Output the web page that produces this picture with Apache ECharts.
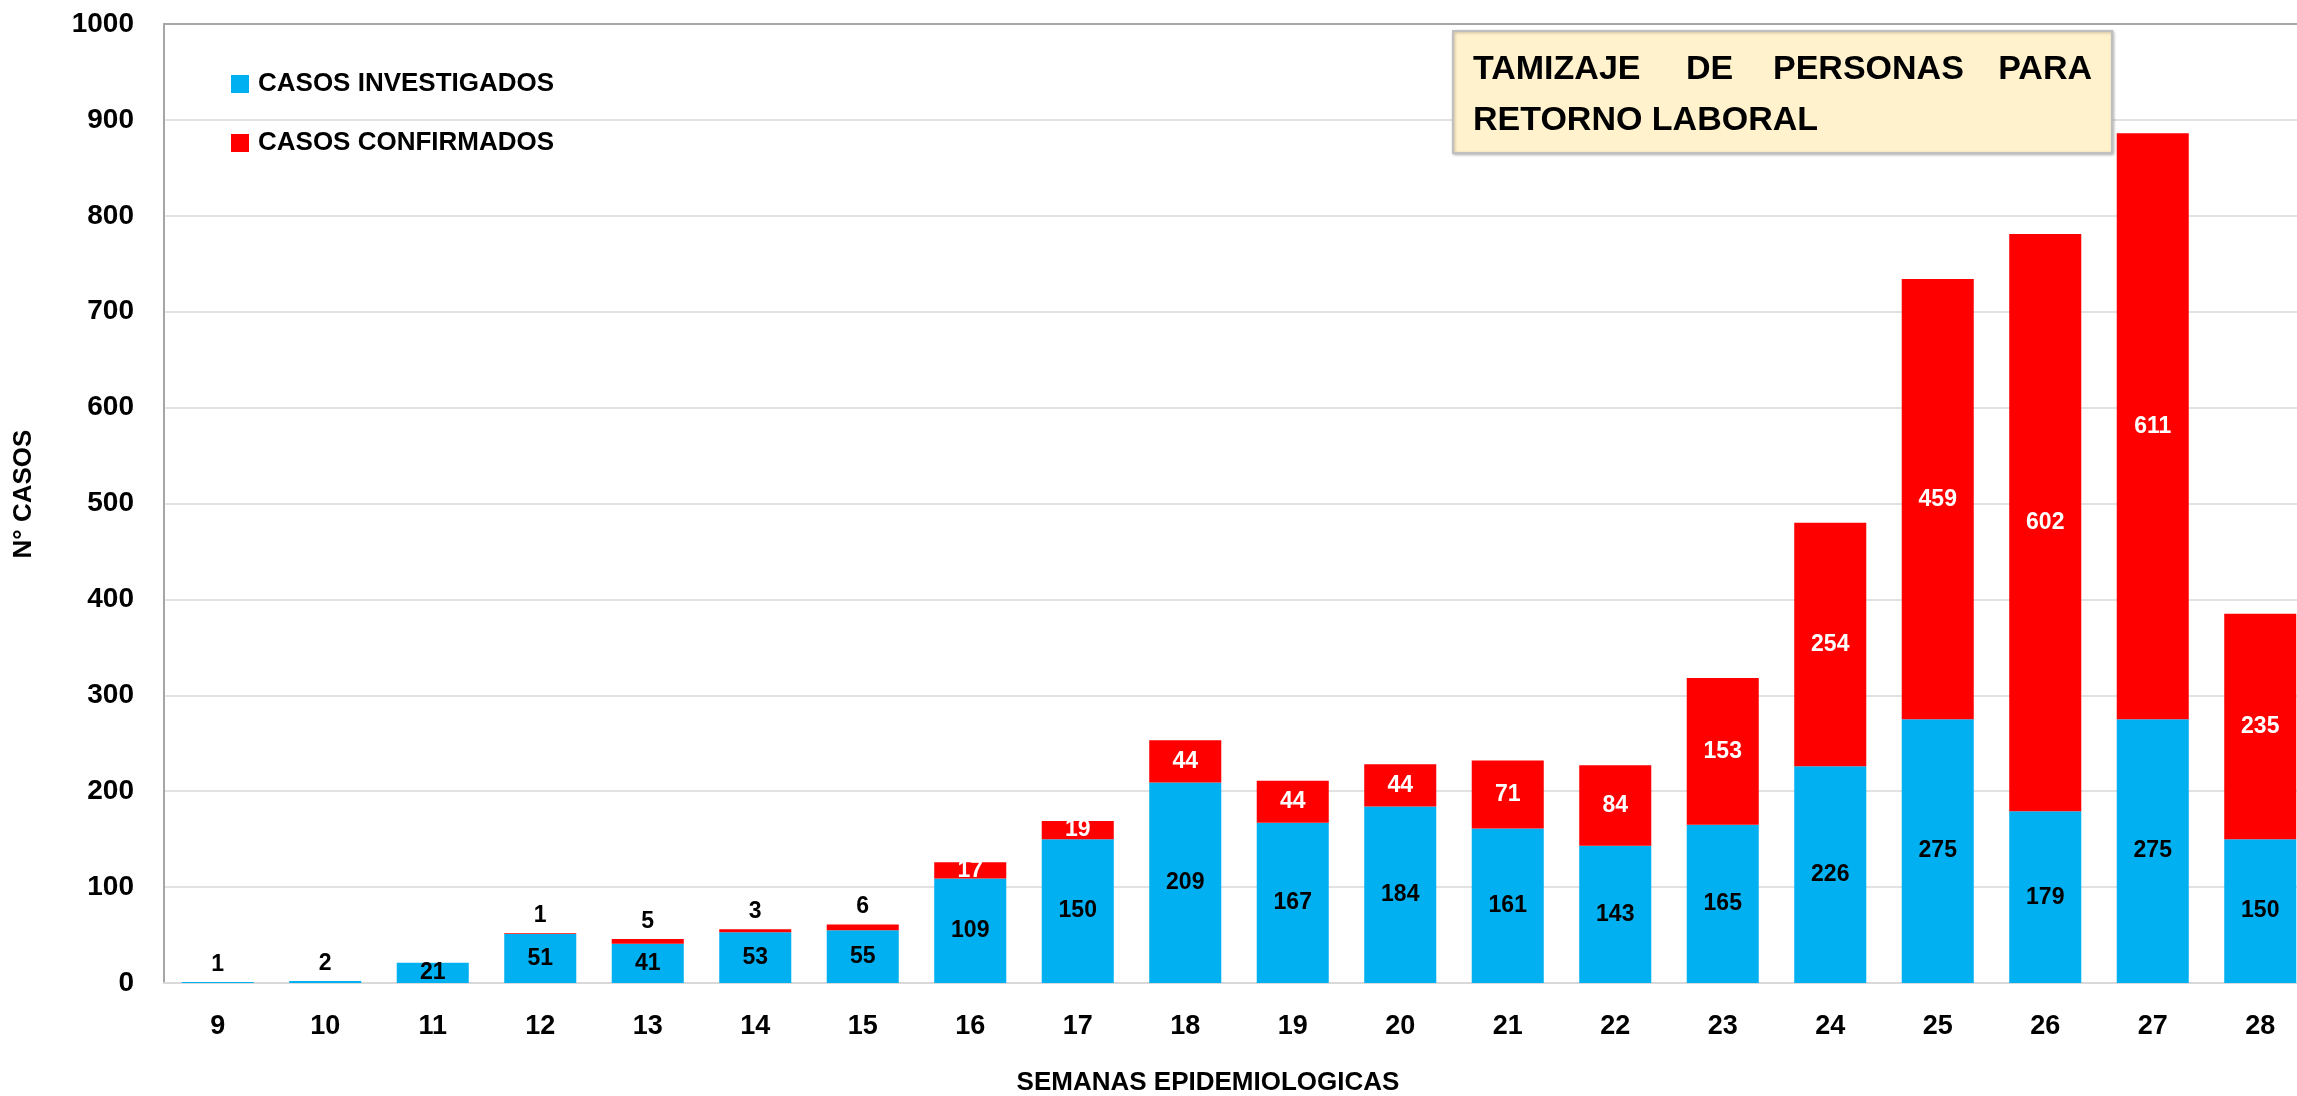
<!DOCTYPE html>
<html>
<head>
<meta charset="utf-8">
<script src="https://cdn.jsdelivr.net/npm/echarts@6/dist/echarts.min.js"></script>
<style>
html,body{margin:0;padding:0;background:#fff;}
#chart{width:2297px;height:1096px;}
</style>
</head>
<body>
<div id="chart"></div>
<script>
const weeks = ['9','10','11','12','13','14','15','16','17','18','19','20','21','22','23','24','25','26','27','28'];
const investigados = [1,2,21,51,41,53,55,109,150,209,167,184,161,143,165,226,275,179,275,150];
const confirmados = [0,0,0,1,5,3,6,17,19,44,44,44,71,84,153,254,459,602,611,235];
const yTicks = [0,100,200,300,400,500,600,700,800,900,1000];
const seriesNames = ['CASOS INVESTIGADOS','CASOS CONFIRMADOS'];
const titleWords = ['TAMIZAJE','DE','PERSONAS','PARA'];
const titleLine2 = 'RETORNO LABORAL';
const xTitle = 'SEMANAS EPIDEMIOLOGICAS';
const yTitle = 'N° CASOS';

const FONT = '"Liberation Sans", Arial, sans-serif';
const BLUE = '#00B0F0', RED = '#FF0000';

const chart = echarts.init(document.getElementById('chart'), null, {renderer:'canvas'});

const blueData = investigados.map(v => v < 10
  ? {value: v, label: {position: 'top', distance: 6, color: '#000'}}
  : {value: v});
const redData = confirmados.map(v => v < 10
  ? {value: v, label: {position: 'top', distance: 6, color: '#000'}}
  : {value: v});

const option = {
  animation: false,
  backgroundColor: '#ffffff',
  textStyle: {fontFamily: FONT},
  grid: {left: 164, top: 24, width: 2150, height: 959, containLabel: false, outerBoundsMode: 'none'},
  legend: {
    orient: 'vertical', left: 231, top: 71, padding: 0,
    itemWidth: 18, itemHeight: 18, itemGap: 33,
    icon: 'rect',
    data: seriesNames,
    textStyle: {fontFamily: FONT, fontWeight: 'bold', fontSize: 26, color: '#000', padding: [0, 0, 0, 4]},
    selectedMode: false
  },
  xAxis: [{
    type: 'category', data: weeks,
    axisLine: {show: true, lineStyle: {color: '#D9D9D9', width: 2}},
    axisTick: {show: false},
    axisLabel: {fontFamily: FONT, fontWeight: 'bold', fontSize: 27, color: '#000', margin: 30, interval: 0}
  }, {
    type: 'category', data: weeks, position: 'top',
    axisLine: {show: true, onZero: false, lineStyle: {color: '#A6A6A6', width: 2}},
    axisTick: {show: false}, axisLabel: {show: false}, splitLine: {show: false}
  }],
  yAxis: {
    type: 'value', min: yTicks[0], max: yTicks[yTicks.length-1], interval: 100,
    axisLine: {show: true, lineStyle: {color: '#A6A6A6', width: 2}},
    axisTick: {show: false},
    axisLabel: {fontFamily: FONT, fontWeight: 'bold', fontSize: 28, color: '#000', margin: 30,
      formatter: v => String(v)},
    splitLine: {show: true, lineStyle: {color: '#D9D9D9', width: 1.5}}
  },
  series: [{
    name: seriesNames[0], type: 'bar', stack: 'total', barCategoryGap: '33%',
    itemStyle: {color: BLUE},
    label: {show: true, position: 'inside', color: '#000', fontFamily: FONT, fontWeight: 'bold', fontSize: 23,
      formatter: p => p.value ? String(p.value) : ''},
    data: blueData
  }, {
    name: seriesNames[1], type: 'bar', stack: 'total', barCategoryGap: '33%',
    itemStyle: {color: RED},
    label: {show: true, position: 'inside', color: '#fff', fontFamily: FONT, fontWeight: 'bold', fontSize: 23,
      formatter: p => p.value ? String(p.value) : ''},
    data: redData
  }],
  graphic: [
    {type: 'text', x: 24, y: 494, rotation: Math.PI/2, z: 100,
     style: {text: yTitle, font: 'bold 26px ' + FONT, fill: '#000', align: 'center', verticalAlign: 'middle'}},
    {type: 'text', x: 1208, y: 1083, z: 100,
     style: {text: xTitle, font: 'bold 26px ' + FONT, fill: '#000', align: 'center', verticalAlign: 'middle'}},
    {type: 'group', z: 100, children: [
      {type: 'rect', x: 1453, y: 31, z: 100, shape: {width: 659, height: 122},
       style: {fill: '#FFF2CC', stroke: '#BFBFBF', lineWidth: 2, shadowBlur: 3, shadowColor: 'rgba(0,0,0,0.25)', shadowOffsetX: 1, shadowOffsetY: 1}},
      {type: 'text', x: 1473, y: 70, z: 101, style: {text: titleWords[0], font: 'bold 34px ' + FONT, fill: '#000', align: 'left', verticalAlign: 'middle'}},
      {type: 'text', x: 1686, y: 70, z: 101, style: {text: titleWords[1], font: 'bold 34px ' + FONT, fill: '#000', align: 'left', verticalAlign: 'middle'}},
      {type: 'text', x: 1773, y: 70, z: 101, style: {text: titleWords[2], font: 'bold 34px ' + FONT, fill: '#000', align: 'left', verticalAlign: 'middle'}},
      {type: 'text', x: 2092, y: 70, z: 101, style: {text: titleWords[3], font: 'bold 34px ' + FONT, fill: '#000', align: 'right', verticalAlign: 'middle'}},
      {type: 'text', x: 1473, y: 121, z: 101, style: {text: titleLine2, font: 'bold 34px ' + FONT, fill: '#000', align: 'left', verticalAlign: 'middle'}}
    ]}
  ]
};
chart.setOption(option);
</script>
</body>
</html>
